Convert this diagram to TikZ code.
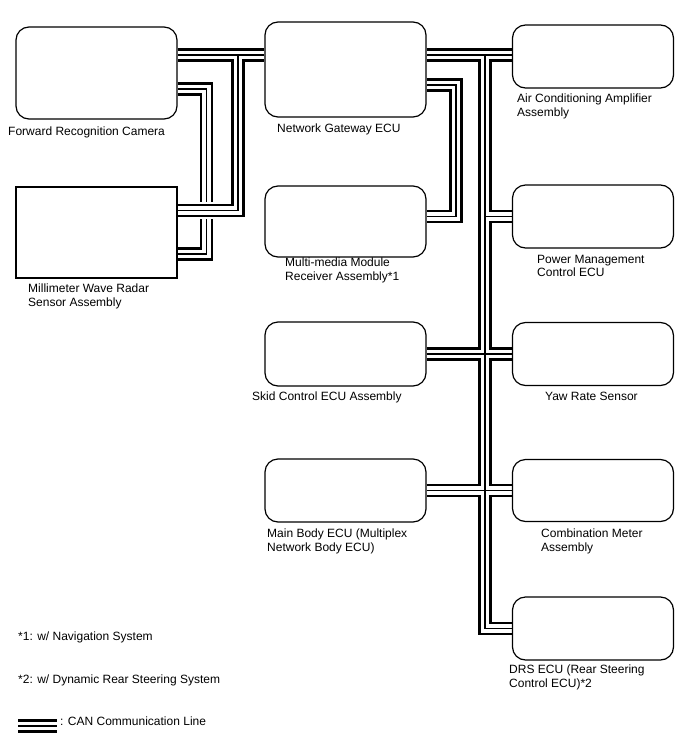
\documentclass[tikz,border=0pt]{standalone}
\usepackage{fontspec}
\setmainfont{Liberation Sans}
\usetikzlibrary{positioning, calc, backgrounds}

% bus paths, drawn in three passes so that junctions stay open
\newcommand{\canmain}{(cam.east |- jl) -- (gw.west |- jl)
  (jl) -- (ru) -- (radar.east |- ru)
  (gw.east |- jr) -- (ac.west |- jr)
  (jr) |- (drs.west)
  (gw.east |- gm) -- (gm) -- (gm |- pm.west) -- (mm.east |- pm.west)
  (pm.west) -- (pm.west -| jr)
  (skid.east) -- (yaw.west)
  (body.east) -- (comb.west)}
\newcommand{\canpriv}{(cam.east |- pc) -- (pc) -- (pr) -- (radar.east |- pr)}

\tikzset{
  canouter/.style={line width=13.5pt},
  cangap/.style={line width=8.7pt, draw=white},
  cancore/.style={line width=1.1pt},
  canhalo/.style={line width=17pt, draw=white}
}

\begin{document}
\begin{tikzpicture}[x=1pt, y=-1pt, every node/.style={font=\fontsize{12}{13.5}\selectfont},
  ecu/.style={draw, line width=1.2pt, rounded corners=13pt, minimum width=161pt, inner sep=0pt},
  lbl/.style={anchor=north west, align=left, inner sep=0pt}]

\useasboundingbox (0,0) rectangle (688,755);

% Left column
\node[ecu, minimum height=92pt] (cam) at (96.5,73) {};
\node[ecu, sharp corners, line width=1.1pt, minimum height=91pt] (radar) at (96.5,232.5) {};

% Middle column
\node[ecu, minimum height=95pt] (gw) at (345.5,69.5) {};
\node[ecu, minimum height=71pt] (mm) at (345.5,221.5) {};
\node[ecu, minimum height=64pt] (skid) at (345.5,354) {};
\node[ecu, minimum height=63pt] (body) at (345.5,490.5) {};

% Right column
\node[ecu, minimum height=63pt] (ac) at (593,56.5) {};
\node[ecu, minimum height=63pt] (pm) at (593,216.5) {};
\node[ecu, minimum height=63pt] (yaw) at (593,354) {};
\node[ecu, minimum height=62pt] (comb) at (593,490.5) {};
\node[ecu, minimum height=63pt] (drs) at (593,628.5) {};

% Labels
\node[lbl] (camlbl) at (8,127) {Forward Recognition Camera};
\node[lbl] (radarlbl) at (28,284) {Millimeter Wave Radar\\Sensor Assembly};
\node[lbl] (gwlbl) at (277,124) {Network Gateway ECU};
\node[lbl] (mmlbl) at (285,258) {Multi-media Module\\Receiver Assembly*1};
\node[lbl] (skidlbl) at (252,392) {Skid Control ECU Assembly};
\node[lbl] (bodylbl) at (267,529) {Main Body ECU (Multiplex\\Network Body ECU)};
\node[lbl] (aclbl) at (517,94) {Air Conditioning Amplifier\\Assembly};
\node[lbl] (pmlbl) at (537,255) {Power Management\\Control ECU};
\node[lbl] (yawlbl) at (545,392) {Yaw Rate Sensor};
\node[lbl] (comblbl) at (541,529) {Combination Meter\\Assembly};
\node[lbl] (drslbl) at (509,665) {DRS ECU (Rear Steering\\Control ECU)*2};

% Notes and legend
\node[lbl] (note1) at (18,632) {*1: w/ Navigation System};
\node[lbl] (note2) at (18,675) {*2: w/ Dynamic Rear Steering System};
\coordinate (lg1) at (18,726);
\coordinate (lg2) at (57,726);
\node[lbl] (lgtxt) at (60,717) {: CAN Communication Line};

% Bend and junction points
\coordinate (jl) at (238,55);
\coordinate (ru) at (238,210.5);
\coordinate (pc) at (206.5,89);
\coordinate (pr) at (206.5,254);
\coordinate (jr) at (485,55);
\coordinate (gm) at (456,85);

% CAN lines
\begin{scope}[on background layer]
\draw[canouter] \canpriv;
\draw[cangap] \canpriv;
\draw[cancore] \canpriv;

\draw[canhalo] (radar.east |- ru) -- (ru);

\draw[canouter] \canmain;
\draw[cangap] \canmain;
\draw[cancore] \canmain;

\draw[canouter] (lg1) -- (lg2);
\draw[cangap] (lg1) -- (lg2);
\draw[cancore] (lg1) -- (lg2);
\end{scope}

\end{tikzpicture}
\end{document}
